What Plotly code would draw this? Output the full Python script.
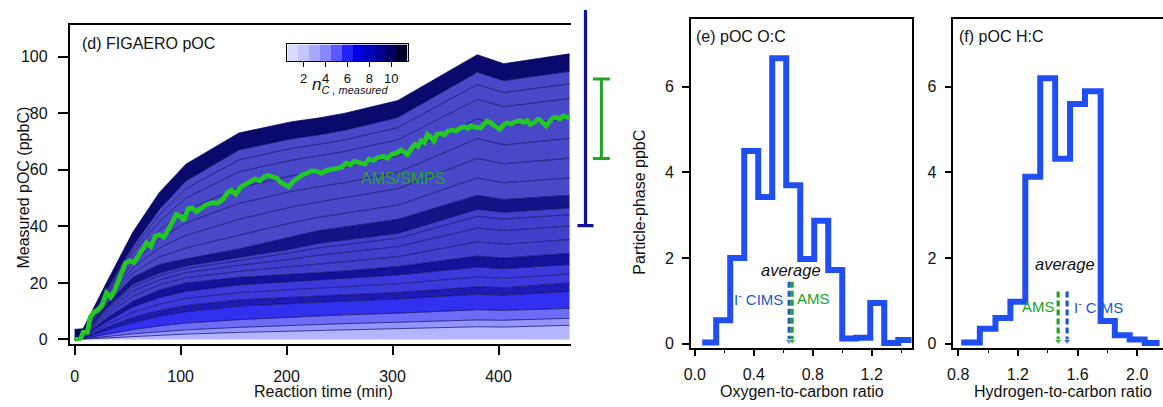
import plotly.graph_objects as go

# ---------------- FIGAERO pOC, stacked by carbon number ----------------
times = [0, 8, 30, 55, 80, 105, 155, 205, 230, 255, 305, 380, 405, 467]

# cumulative upper boundaries of each carbon-number group (ppbC)
nc2_top = [0, 0.1, 0.5, 1.0, 1.5, 1.9, 2.5, 3.0, 3.2, 3.4, 3.8, 4.5, 4.4, 5.0]
nc3_top = [0, 0.2, 1.0, 2.0, 2.8, 3.4, 4.3, 5.0, 5.3, 5.6, 6.1, 6.9, 6.8, 7.5]
nc4_top = [0, 0.3, 1.8, 3.5, 4.8, 5.8, 7.0, 7.9, 8.3, 8.7, 9.3, 10.5, 10.3, 11.0]
nc5_top = [0, 0.5, 3.2, 6.0, 8.2, 9.8, 11.8, 12.8, 13.2, 13.6, 14.3, 16.0, 15.7, 17.0]
nc6_top = [0, 0.6, 4.2, 7.8, 10.2, 12.0, 14.0, 15.0, 15.4, 15.8, 16.6, 18.6, 18.3, 20.0]
nc7a_top = [0, 0.75, 5.2, 9.6, 12.5, 14.5, 16.6, 17.7, 18.2, 18.7, 19.7, 22.1, 21.6, 23.2]
nc7b_top = [0, 0.9, 6.2, 11.5, 14.8, 17.0, 19.3, 20.5, 21.0, 21.6, 22.8, 25.6, 25.0, 26.5]
nc8_top = [0, 1.1, 7.5, 13.5, 17.5, 20.0, 22.0, 23.0, 23.5, 24.2, 25.8, 29.5, 28.8, 30.5]
nc9a_top = [0, 1.25, 8.6, 15.3, 19.3, 21.8, 24.1, 25.7, 26.7, 27.5, 29.3, 34.5, 33.7, 35.3]
nc9b_top = [0, 1.4, 9.6, 17.1, 21.1, 23.6, 26.2, 28.4, 29.8, 30.8, 32.8, 39.4, 38.5, 40.1]
nc9c_top = [0, 1.5, 10.5, 18.6, 22.6, 25.1, 27.9, 30.7, 32.4, 33.6, 35.8, 43.5, 42.6, 44.1]
nc9d_top = [0, 1.6, 11.0, 19.5, 23.5, 26.0, 29.0, 32.0, 34.0, 35.2, 37.5, 46.0, 45.0, 46.5]
nc10_top = [0, 1.9, 12.5, 22.0, 26.5, 28.5, 32.0, 36.5, 38.5, 39.8, 42.5, 51.0, 49.5, 51.0]
nc10a_top = [0, 2.05, 13.2, 23.5, 29.2, 32.3, 36.9, 41.3, 43.2, 44.6, 47.5, 57.1, 55.4, 57.1]
nc10b_top = [0, 2.2, 14.0, 25.3, 32.4, 36.8, 42.5, 46.9, 48.6, 50.1, 53.3, 64.0, 62.1, 64.1]
nc10c_top = [0, 2.4, 14.8, 27.1, 35.5, 41.2, 48.1, 52.4, 54.0, 55.5, 59.1, 71.0, 68.8, 71.1]
nc10d_top = [0, 2.6, 15.6, 28.8, 38.6, 45.6, 53.7, 57.9, 59.5, 61.0, 64.8, 78.0, 75.5, 78.2]
nc10e_top = [0, 2.75, 16.4, 30.6, 41.7, 50.0, 59.3, 63.4, 64.9, 66.5, 70.6, 84.9, 82.3, 85.2]
nc10f_top = [0, 2.9, 17.0, 31.9, 44.1, 53.3, 63.5, 67.6, 69.0, 70.6, 74.9, 90.2, 87.3, 90.4]
nc10g_top = [0, 3.0, 17.5, 33.0, 46.0, 56.0, 67.0, 71.0, 72.3, 74.0, 78.5, 94.5, 91.5, 94.8]
nc11_top = [3.6, 3.8, 20.0, 38.0, 52.0, 62.0, 73.0, 77.0, 78.3, 80.0, 84.5, 100.7, 97.5, 101.0]

# AMS/SMPS organic carbon
ams_time = [0, 3, 6, 8, 12, 15, 18, 22, 26, 30, 34, 38, 43, 48, 52, 56, 60, 64, 68, 72,
            76, 80, 84, 88, 92, 96, 100, 103, 107, 111, 115, 119, 124, 130, 135, 140, 144,
            148, 152, 157, 162, 166, 170, 175, 179, 183, 187, 191, 194, 198, 202, 206, 211,
            215, 220, 224, 229, 233, 238, 243, 248, 252, 256, 260, 264, 269, 274, 278, 282,
            286, 291, 295, 299, 304, 308, 311, 314, 318, 321, 324, 327, 330, 333, 336, 339,
            342, 346, 349, 352, 356, 360, 364, 368, 371, 374, 378, 383, 386, 389, 392, 395,
            398, 401, 404, 408, 412, 416, 420, 424, 427, 430, 434, 437, 439, 442, 445, 448,
            451, 454, 458, 461, 464, 467]
ams_poc = [0.0, 0.2, 0.5, 2.5, 2.6, 8.0, 9.5, 10.5, 12.0, 16.5, 15.0, 17.5, 22.0, 27.0,
           27.8, 27.2, 29.5, 32.0, 34.2, 32.8, 36.5, 37.0, 36.2, 38.5, 41.0, 44.2, 43.5,
           42.0, 46.2, 46.5, 45.2, 46.3, 47.6, 48.4, 48.2, 49.6, 51.8, 52.8, 51.4, 54.0,
           55.2, 55.8, 56.7, 56.2, 57.6, 58.0, 57.3, 57.0, 55.6, 54.8, 54.0, 55.8, 57.3,
           58.2, 59.0, 59.7, 59.4, 58.8, 59.8, 60.2, 60.6, 60.9, 62.4, 61.8, 63.0, 62.6,
           62.0, 63.8, 63.3, 64.3, 64.8, 64.1, 65.4, 66.0, 67.0, 66.3, 65.4, 67.6, 69.0,
           68.3, 70.2, 69.6, 72.5, 71.6, 70.2, 72.5, 72.8, 72.4, 73.6, 74.1, 73.7, 74.8,
           75.2, 74.6, 75.5, 75.1, 74.8, 76.0, 77.2, 76.8, 76.0, 75.1, 74.3, 75.6, 76.6,
           76.2, 77.0, 77.3, 76.8, 77.4, 76.0, 76.8, 77.8, 77.6, 76.6, 75.5, 77.0, 78.3,
           78.6, 78.0, 79.0, 78.8, 78.3]

# end-of-experiment totals and their relative uncertainties
final_labels = ["FIGAERO", "AMS/SMPS"]
final_values = [100.6, 78.0]
final_rel_unc = [0.60, 0.18]

# carbon-number colour key
nc_values = [1, 2, 3, 4, 5, 6, 7, 8, 9, 10, 11]
nc_colors = ["#dadaff", "#c4c4ff", "#a8a8ff", "#8888ff", "#5a5aff", "#2222ff",
             "#0000e4", "#0000bc", "#000090", "#000062", "#00002c"]
nc_ticks = [2, 4, 6, 8, 10]

# ---------------- O:C and H:C distributions ----------------
oc_edges = [0.05, 0.145, 0.24, 0.335, 0.43, 0.525, 0.62, 0.715, 0.81, 0.905, 1.0,
            1.095, 1.19, 1.285, 1.38, 1.475]
oc_ppbc = [0.03, 0.55, 2.0, 4.5, 3.43, 6.67, 3.7, 1.98, 2.87, 1.72, 0.12, 0.14,
           0.95, 0.02, 0.09]
hc_edges = [0.82, 0.945, 1.05, 1.15, 1.25, 1.35, 1.45, 1.55, 1.65, 1.755, 1.85,
            1.95, 2.05, 2.15]
hc_ppbc = [0.03, 0.35, 0.6, 0.98, 3.9, 6.2, 4.32, 5.6, 5.9, 0.53, 0.2, 0.1, 0.02]

oc_avg = {"I<sup>-</sup> CIMS": 0.64, "AMS": 0.66}
hc_avg = {"AMS": 1.47, "I<sup>-</sup> CIMS": 1.53}
oc_arrow_top = 1.45
hc_arrow_top = 1.22

FONT = "Liberation Sans, Arial, sans-serif"
BLUE_HIST = "#1f4ff2"
CIMS_BLUE = "#1f55d8"
AMS_GREEN = "#22a526"
LINE_GREEN = "#22c922"
NAVY_EDGE = "#050560"

fig = go.Figure()

# stacked carbon-number layers (bottom to top), each filled to the one below
layers = [
    (nc2_top, "#b4b4ff"), (nc3_top, "#9494ff"), (nc4_top, "#6c6cf6"),
    (nc5_top, "#3030ee"), (nc6_top, "#1c1cb4"), (nc7a_top, "#3a3adc"),
    (nc7b_top, "#3a3adc"), (nc8_top, "#12129a"), (nc9a_top, "#4040cc"),
    (nc9b_top, "#4040cc"), (nc9c_top, "#4040cc"), (nc9d_top, "#4040cc"),
    (nc10_top, "#141488"), (nc10a_top, "#4848c8"), (nc10b_top, "#4848c8"),
    (nc10c_top, "#4848c8"), (nc10d_top, "#4848c8"), (nc10e_top, "#4848c8"),
    (nc10f_top, "#4848c8"), (nc10g_top, "#4848c8"), (nc11_top, "#0a0a6c"),
]
for i, (top, col) in enumerate(layers):
    fig.add_trace(go.Scatter(
        x=times, y=top, mode="lines", xaxis="x", yaxis="y",
        line=dict(color=NAVY_EDGE, width=0.7),
        fill="tozeroy" if i == 0 else "tonexty", fillcolor=col,
        hoverinfo="skip", showlegend=False))

fig.add_trace(go.Scatter(
    x=ams_time, y=ams_poc, mode="lines", xaxis="x", yaxis="y",
    line=dict(color=LINE_GREEN, width=4.8), showlegend=False, hoverinfo="skip"))

# final-value uncertainty bars to the right of the time series
fig.add_trace(go.Scatter(
    x=[final_labels[0]], y=[final_values[0]], mode="lines", xaxis="x4", yaxis="y4",
    error_y=dict(type="data", array=[final_values[0] * final_rel_unc[0]],
                 color="#10109e", thickness=3.2, width=8),
    showlegend=False, hoverinfo="skip"))
fig.add_trace(go.Scatter(
    x=[final_labels[1]], y=[final_values[1]], mode="lines", xaxis="x4", yaxis="y4",
    error_y=dict(type="data", array=[final_values[1] * final_rel_unc[1]],
                 color=AMS_GREEN, thickness=3, width=8.5),
    showlegend=False, hoverinfo="skip"))

# colour key for carbon number
fig.add_trace(go.Heatmap(
    z=[nc_values], x=nc_values, y=[0], xaxis="x5", yaxis="y5",
    zmin=1, zmax=11, showscale=False, hoverinfo="skip",
    colorscale=[[(v - 1) / 10, c] for v, c in zip(nc_values, nc_colors)]))

# histograms
fig.add_trace(go.Scatter(
    x=oc_edges, y=oc_ppbc + [oc_ppbc[-1]], mode="lines", line_shape="hv",
    xaxis="x2", yaxis="y2", line=dict(color=BLUE_HIST, width=6),
    showlegend=False, hoverinfo="skip"))
fig.add_trace(go.Scatter(
    x=hc_edges, y=hc_ppbc + [hc_ppbc[-1]], mode="lines", line_shape="hv",
    xaxis="x3", yaxis="y3", line=dict(color=BLUE_HIST, width=6),
    showlegend=False, hoverinfo="skip"))


def avg_marker(xv, top, color, xa, ya):
    fig.add_trace(go.Scatter(
        x=[xv, xv], y=[top, 0.06], mode="lines+markers", xaxis=xa, yaxis=ya,
        line=dict(color=color, width=3.2, dash="6px,3px"),
        marker=dict(symbol="triangle-down", size=[0, 7], color=color),
        showlegend=False, hoverinfo="skip"))


avg_marker(oc_avg["I<sup>-</sup> CIMS"], oc_arrow_top, CIMS_BLUE, "x2", "y2")
avg_marker(oc_avg["AMS"], oc_arrow_top, AMS_GREEN, "x2", "y2")
avg_marker(hc_avg["AMS"], hc_arrow_top, AMS_GREEN, "x3", "y3")
avg_marker(hc_avg["I<sup>-</sup> CIMS"], hc_arrow_top, CIMS_BLUE, "x3", "y3")

W, H = 1163, 407


def xd(a, b):
    return [a / W, b / W]


def yd(top, bottom):
    return [1 - bottom / H, 1 - top / H]


axis_common = dict(showline=True, linecolor="black", linewidth=1.5, ticks="outside",
                   tickcolor="black", tickwidth=1.5, showgrid=False, zeroline=False,
                   tickfont=dict(family=FONT, size=16, color="#111"))

fig.update_layout(
    width=W, height=H, margin=dict(l=0, r=0, t=0, b=0),
    paper_bgcolor="white", plot_bgcolor="rgba(0,0,0,0)", showlegend=False,
    font=dict(family=FONT, size=16, color="#111"),
    xaxis=dict(domain=xd(63, 567), range=[-4.7, 468], tickvals=[0, 100, 200, 300, 400],
               ticklen=10, mirror=True, anchor="y", ticklabelstandoff=7, **axis_common),
    yaxis=dict(domain=yd(25, 348), range=[-1.5, 111.3], tickvals=[0, 20, 40, 60, 80, 100],
               ticklen=10, anchor="x", ticklabelstandoff=7, **axis_common),
    xaxis4=dict(domain=xd(570, 610), type="category", range=[-0.75, 1.75],
                visible=False, anchor="y4"),
    yaxis4=dict(domain=yd(10, 348), range=[-1.5, 116.5], visible=False, anchor="x4"),
    xaxis5=dict(domain=xd(282, 403), range=[0.5, 11.5], tickvals=nc_ticks, ticks="outside",
                ticklen=5, tickwidth=1.3, tickcolor="black", showline=True, mirror=True,
                linecolor="black", linewidth=1.3, showgrid=False, zeroline=False,
                tickfont=dict(family=FONT, size=13, color="#111"), anchor="y5",
                ticklabelstandoff=0),
    yaxis5=dict(domain=yd(45, 62), range=[-0.5, 0.5], showticklabels=False, ticks="",
                showline=True, mirror=True, linecolor="black", linewidth=1.3,
                showgrid=False, zeroline=False, anchor="x5"),
    xaxis2=dict(domain=xd(688, 910), range=[-0.027, 1.470], tickvals=[0, 0.4, 0.8, 1.2],
                ticktext=["0.0", "0.4", "0.8", "1.2"], ticklen=7, mirror=True, anchor="y2",
                minor=dict(dtick=0.2, tick0=0, ticks="outside", ticklen=4, tickwidth=1.3,
                           tickcolor="black"),
                ticklabelstandoff=4, **axis_common),
    yaxis2=dict(domain=yd(19, 352), range=[-0.092, 7.59], tickvals=[0, 2, 4, 6], ticklen=7,
                mirror=True, anchor="x2", ticklabelstandoff=5, **axis_common),
    xaxis3=dict(domain=xd(952, 1163), range=[0.767, 2.173], tickvals=[0.8, 1.2, 1.6, 2.0],
                ticktext=["0.8", "1.2", "1.6", "2.0"], ticklen=7, mirror=True, anchor="y3",
                minor=dict(dtick=0.2, tick0=0, ticks="outside", ticklen=4, tickwidth=1.3,
                           tickcolor="black"),
                ticklabelstandoff=4, **axis_common),
    yaxis3=dict(domain=yd(19, 352), range=[-0.092, 7.59], tickvals=[0, 2, 4, 6], ticklen=7,
                anchor="x3", ticklabelstandoff=5, **axis_common),
)

ann = []


def text(x, y, s, xref="paper", yref="paper", xanchor="left", yanchor="middle",
         size=16, color="#111", angle=0):
    ann.append(dict(x=x, y=y, xref=xref, yref=yref, text=s, showarrow=False,
                    xanchor=xanchor, yanchor=yanchor, textangle=angle, borderpad=0,
                    font=dict(family=FONT, size=size, color=color)))


# panel titles
text(74 / W, 1 - 44 / H, "(d) FIGAERO pOC")
text(692 / W, 1 - 37 / H, "(e) pOC O:C")
text(957 / W, 1 - 37 / H, "(f) pOC H:C")
# axis titles
text(318 / W, 1 - 396 / H, "Reaction time (min)", xanchor="center")
text(17 / W, 1 - 190 / H, "Measured pOC (ppbC)", xanchor="center", angle=-90)
text(800 / W, 1 - 396 / H, "Oxygen-to-carbon ratio", xanchor="center")
text(1062 / W, 1 - 396 / H, "Hydrogen-to-carbon ratio", xanchor="center")
text(636 / W, 1 - 205 / H, "Particle-phase ppbC", xanchor="center", angle=-90)
# colour key title
text(306 / W, 1 - 87 / H,
     "<i>n</i><sub><i><span style='font-size:11px'>C , measured</span></i></sub>",
     size=17)
# series labels
text(310, 57, "AMS/SMPS", xref="x", yref="y", xanchor="center", color=AMS_GREEN)
text(0.65, 1.72, "<i>average</i>", xref="x2", yref="y2", xanchor="center", size=16.5)
text(0.607, 1.06, "I<sup>-</sup> CIMS", xref="x2", yref="y2", xanchor="right",
     color=CIMS_BLUE, size=15)
text(0.683, 1.06, "AMS", xref="x2", yref="y2", color=AMS_GREEN, size=15)
text(1.513, 1.87, "<i>average</i>", xref="x3", yref="y3", xanchor="center", size=16.5)
text(1.455, 0.88, "AMS", xref="x3", yref="y3", xanchor="right", color=AMS_GREEN, size=15)
text(1.567, 0.88, "I<sup>-</sup> CIMS", xref="x3", yref="y3", color=CIMS_BLUE, size=15)

fig.update_layout(annotations=ann)
fig.write_html("out.html")
